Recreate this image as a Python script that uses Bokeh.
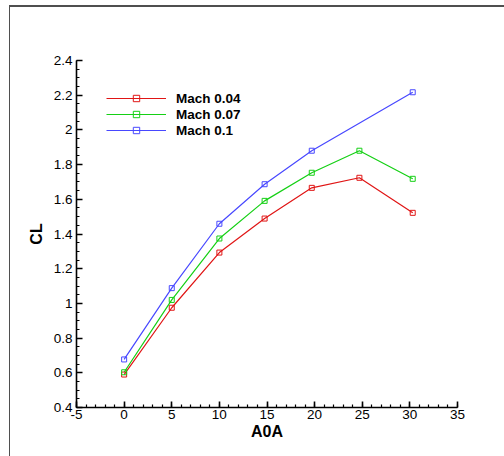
from bokeh.plotting import figure
from bokeh.models import FixedTicker, Legend, LegendItem, CustomJSTickFormatter
from bokeh.embed import file_html
from bokeh.resources import INLINE

# data
aoa = [0, 5, 10, 14.75, 19.7, 24.7, 30.3]
cl_m004 = [0.59, 0.975, 1.293, 1.489, 1.666, 1.724, 1.522]
cl_m007 = [0.603, 1.02, 1.374, 1.591, 1.753, 1.88, 1.718]
aoa_m01 = [0, 5, 10, 14.75, 19.7, 30.3]
cl_m01 = [0.677, 1.088, 1.459, 1.687, 1.88, 2.217]
series_names = ["Mach 0.04", "Mach 0.07", "Mach 0.1"]
x_ticks = [-5, 0, 5, 10, 15, 20, 25, 30, 35]
x_minor = list(range(-5, 36))
y_ticks = [0.4, 0.6, 0.8, 1.0, 1.2, 1.4, 1.6, 1.8, 2.0, 2.2, 2.4]
y_minor = [round(0.4 + 0.05 * i, 2) for i in range(41)]

colors = ["#e01515", "#15d015", "#4848ff"]
FONT = "Liberation Sans"

p = figure(width=504, height=456, output_backend="svg", toolbar_location=None,
           x_range=(-5, 35), y_range=(0.4, 2.4),
           min_border_left=66, min_border_right=57, min_border_top=53, min_border_bottom=56,
           x_axis_label="A0A", y_axis_label="CL")
p.margin = (7, 0, 0, 10)
p.styles = {"box-shadow": "-1px -2px 0px 0px #4f4f4f"}
p.outline_line_color = None
p.grid.visible = False
p.background_fill_color = "white"
p.border_fill_color = "white"

p.xaxis.ticker = FixedTicker(ticks=x_ticks, minor_ticks=x_minor)
p.yaxis.ticker = FixedTicker(ticks=y_ticks, minor_ticks=y_minor)
p.xaxis.formatter = CustomJSTickFormatter(code="return Math.round(tick).toString();")
p.yaxis.formatter = CustomJSTickFormatter(code="return (Math.round(tick*10)/10).toString();")

for ax in (p.xaxis, p.yaxis):
    ax.axis_line_color = "black"
    ax.axis_line_width = 1.6
    ax.major_tick_line_color = "black"
    ax.major_tick_line_width = 1.6
    ax.minor_tick_line_color = "black"
    ax.minor_tick_line_width = 1.2
    ax.major_tick_in = 6
    ax.major_tick_out = 0
    ax.minor_tick_in = 3
    ax.minor_tick_out = 0
    ax.major_label_text_font = FONT
    ax.major_label_text_font_size = "13.5px"
    ax.major_label_text_color = "black"
    ax.axis_label_text_font = FONT
    ax.axis_label_text_font_style = "bold"
    ax.axis_label_text_font_size = "16px"
    ax.axis_label_text_color = "black"
p.xaxis.major_label_standoff = 2
p.yaxis.major_label_standoff = 4
p.xaxis.axis_label_standoff = 1
p.yaxis.axis_label_standoff = 6

items = []
for xs, ys, c, name in [(aoa, cl_m004, colors[0], series_names[0]),
                        (aoa, cl_m007, colors[1], series_names[1]),
                        (aoa_m01, cl_m01, colors[2], series_names[2])]:
    l = p.line(xs, ys, line_color=c, line_width=1.2)
    s = p.scatter(xs, ys, marker="square", size=5, fill_color=None, line_color=c, line_width=1)
    items.append(LegendItem(label=name, renderers=[l, s]))

legend = Legend(items=items, location=(30, 269), orientation="vertical")
legend.border_line_alpha = 0
legend.background_fill_alpha = 0
legend.padding = 0
legend.margin = 0
legend.spacing = 0
legend.glyph_width = 60
legend.glyph_height = 16
legend.label_height = 16
legend.label_standoff = 10
legend.label_text_font = FONT
legend.label_text_font_style = "bold"
legend.label_text_font_size = "13.5px"
legend.label_text_color = "black"
p.add_layout(legend, "center")

open("out.html", "w").write(file_html(p, INLINE))
